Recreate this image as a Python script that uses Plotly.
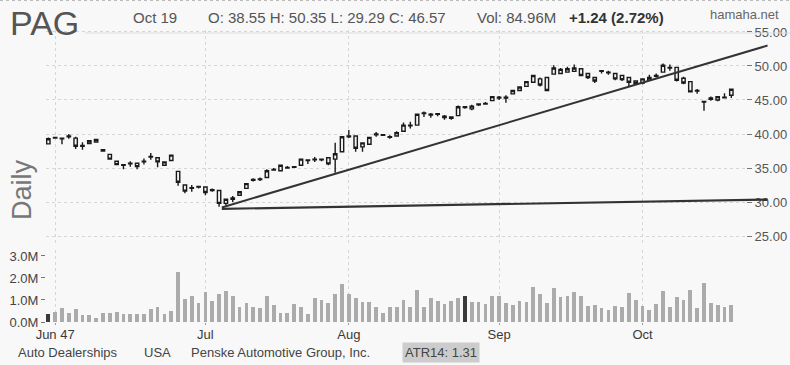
import plotly.graph_objects as go

# ---------------- data ----------------
opens = [38.55, 39.4, 39.4, 39.6, 39.4, 38.3, 38.6, 38.8, 37.7, 37.0,
         36.0, 35.5, 35.6, 35.7, 35.9, 36.6, 36.5, 35.4, 36.1, 34.5,
         32.5, 32.1, 32.2, 32.2, 31.7, 31.7, 29.8, 30.4, 31.0, 32.0,
         33.2, 33.3, 33.6, 34.7, 34.6, 35.0, 35.1, 35.4, 36.2, 36.2,
         36.3, 36.5, 36.3, 37.4, 39.7, 39.7, 38.1, 38.5, 39.9, 39.9,
         39.6, 39.7, 40.4, 41.2, 41.3, 43.0, 42.9, 42.9, 42.6, 42.5,
         42.7, 43.9, 43.7, 44.3, 44.4, 44.9, 45.4, 45.3, 45.9, 46.4,
         47.0, 47.6, 48.1, 48.3, 48.8, 48.9, 49.1, 49.2, 49.6, 48.9,
         48.3, 49.2, 49.1, 48.9, 48.6, 48.3, 47.8, 47.5, 47.9, 48.5,
         49.1, 49.8, 49.8, 48.2, 47.7, 46.4, 44.8, 45.1, 45.0, 45.4,
         45.7]
highs = [39.5, 39.6, 39.5, 40.0, 39.6, 38.8, 39.1, 39.3, 37.8, 37.1,
         36.1, 35.6, 36.0, 35.8, 36.4, 37.2, 36.6, 36.0, 37.0, 34.5,
         32.6, 32.5, 32.4, 32.3, 32.0, 31.8, 30.5, 30.9, 31.6, 32.8,
         33.5, 33.6, 34.8, 35.0, 35.5, 35.3, 35.3, 36.4, 36.3, 36.6,
         36.4, 36.6, 38.7, 39.7, 40.6, 39.8, 38.8, 39.6, 40.3, 40.0,
         39.8, 40.4, 41.7, 41.8, 43.0, 43.3, 43.1, 43.1, 42.8, 42.6,
         44.2, 44.1, 44.3, 44.5, 44.7, 45.6, 45.6, 45.7, 46.5, 47.0,
         47.8, 48.7, 48.3, 48.4, 50.1, 49.7, 49.9, 50.2, 49.7, 49.0,
         48.4, 49.3, 49.3, 49.0, 48.7, 48.4, 47.9, 48.2, 48.7, 48.9,
         50.35, 50.2, 49.9, 48.4, 47.8, 46.6, 44.9, 45.5, 45.6, 46.0,
         46.7]
lows = [38.5, 39.3, 38.5, 39.3, 37.8, 37.7, 38.5, 38.7, 37.4, 36.2,
        35.4, 34.8, 35.2, 34.8, 35.5, 36.2, 35.1, 35.3, 36.0, 32.4,
        31.3, 31.5, 32.0, 31.0, 31.5, 29.29, 29.5, 30.0, 30.9, 31.9,
        33.0, 33.1, 33.5, 34.6, 34.5, 34.9, 35.0, 35.3, 35.6, 35.9,
        36.0, 35.4, 34.3, 37.3, 39.4, 37.4, 37.4, 38.4, 39.6, 39.7,
        39.3, 39.6, 40.3, 40.8, 41.2, 42.5, 42.4, 42.6, 42.1, 42.1,
        42.6, 43.7, 43.5, 44.1, 44.3, 44.8, 45.0, 44.6, 45.8, 46.3,
        46.9, 47.5, 47.0, 46.3, 48.7, 48.8, 49.0, 49.1, 48.5, 48.1,
        47.5, 48.9, 48.7, 47.9, 47.8, 47.0, 47.2, 47.3, 47.8, 48.3,
        49.0, 49.3, 47.7, 47.3, 46.1, 45.9, 43.4, 44.9, 44.8, 45.3,
        45.3]
closes = [39.3, 39.5, 39.3, 39.7, 38.2, 38.2, 39.0, 39.2, 37.5, 36.3,
          35.5, 35.4, 35.7, 35.2, 36.0, 36.7, 35.9, 35.9, 36.9, 32.9,
          31.6, 32.0, 32.3, 31.4, 31.8, 29.8, 30.4, 30.6, 31.5, 32.7,
          33.3, 33.4, 34.6, 34.8, 35.4, 35.1, 35.2, 36.3, 36.1, 36.3,
          36.2, 35.6, 37.1, 39.6, 39.6, 37.9, 38.7, 39.5, 40.0, 39.8,
          39.5, 40.2, 41.3, 41.3, 42.9, 43.1, 42.8, 43.0, 42.4, 42.3,
          44.0, 44.0, 44.1, 44.4, 44.5, 45.5, 45.3, 45.4, 46.4, 46.9,
          47.7, 48.6, 47.2, 46.4, 49.7, 49.5, 49.6, 49.7, 48.6, 48.3,
          47.8, 49.3, 49.0, 48.1, 48.0, 47.6, 47.4, 48.1, 48.3, 48.6,
          50.1, 49.7, 47.9, 47.5, 46.2, 46.3, 44.7, 45.3, 45.5, 45.33,
          46.57]
volumes_m = [0.38, 0.46, 0.62, 0.43, 0.57, 0.34, 0.34, 0.16, 0.43, 0.43,
             0.47, 0.37, 0.35, 0.38, 0.35, 0.57, 0.68, 0.37, 0.49, 2.25,
             1.06, 1.16, 0.88, 1.37, 0.97, 1.29, 1.41, 1.20, 0.70, 0.87,
             0.68, 0.62, 1.16, 0.76, 0.43, 0.43, 0.81, 0.68, 0.37, 1.07,
             1.01, 0.87, 1.25, 1.73, 1.29, 1.10, 0.90, 0.90, 0.66, 0.43,
             0.66, 0.70, 1.01, 0.68, 1.47, 0.70, 1.10, 0.97, 0.81, 0.96,
             1.10, 1.16, 0.90, 0.90, 0.82, 1.16, 1.16, 0.87, 0.78, 0.97,
             0.90, 1.60, 1.26, 0.87, 1.56, 1.12, 1.16, 1.37, 1.20, 0.72,
             0.78, 0.63, 0.53, 0.72, 0.68, 1.31, 1.01, 0.72, 0.53, 0.81,
             1.41, 0.68, 1.12, 1.01, 1.47, 0.63, 1.78, 0.87, 0.76, 0.68,
             0.76]
highlight_bars = [0, 61]

month_tick_index = [1, 23, 44, 66, 87]
month_tick_text = ["Jun 47", "Jul", "Aug", "Sep", "Oct"]

price_ticks = [25, 30, 35, 40, 45, 50, 55]
vol_ticks = [0, 1e6, 2e6, 3e6]
vol_tick_text = ["0.0M", "1.0M", "2.0M", "3.0M"]

upper_trend_x = [25.4, 105.3]
upper_trend_y = [29.2, 53.0]
lower_trend_x = [25.4, 105.3]
lower_trend_y = [29.0, 30.35]

# ---------------- figure ----------------
W, H = 790, 365
idx = list(range(len(opens)))
volumes = [v * 1e6 for v in volumes_m]
bar_colors = ["#3a3a3a" if i in highlight_bars else "#ababab" for i in idx]

FONT = "Liberation Sans, Arial, sans-serif"
BG = "#f8f8f8"
GRID = "#d6d6d6"

fig = go.Figure()

fig.add_trace(go.Bar(
    x=idx, y=volumes, marker=dict(color=bar_colors, line=dict(width=0)),
    width=0.55, xaxis="x", yaxis="y", hoverinfo="skip", showlegend=False))

fig.add_trace(go.Candlestick(
    x=idx, open=opens, high=highs, low=lows, close=closes,
    increasing=dict(line=dict(color="#1a1a1a", width=1.4), fillcolor="#f4f4f4"),
    decreasing=dict(line=dict(color="#1a1a1a", width=1.4), fillcolor="#f4f4f4"),
    whiskerwidth=0, xaxis="x2", yaxis="y2", hoverinfo="skip", showlegend=False))

# trend lines on an overlay axis that reaches into the label column
fig.add_trace(go.Scatter(
    x=upper_trend_x, y=upper_trend_y, mode="lines",
    line=dict(color="#333333", width=2), xaxis="x3", yaxis="y3",
    hoverinfo="skip", showlegend=False))
fig.add_trace(go.Scatter(
    x=lower_trend_x, y=lower_trend_y, mode="lines",
    line=dict(color="#333333", width=2.2), xaxis="x3", yaxis="y3",
    hoverinfo="skip", showlegend=False))

PX_PER_BAR = 6.83
X_LEFT, X_RIGHT, X_EXT = 46, 746, 768
x_dom = [X_LEFT / W, X_RIGHT / W]
x_range = [-0.34, -0.34 + (X_RIGHT - X_LEFT) / PX_PER_BAR]
x3_range = [-0.34, -0.34 + (X_EXT - X_LEFT) / PX_PER_BAR]

def py(px):
    return 1 - px / H

price_dom = [py(245), py(30)]
price_range = [23.68, 55.29]

fig.update_layout(
    width=W, height=H,
    margin=dict(l=0, r=0, t=0, b=0, autoexpand=False),
    paper_bgcolor=BG, plot_bgcolor="rgba(0,0,0,0)",
    font=dict(family=FONT, color="#555555"),
    bargap=0,
    xaxis=dict(domain=x_dom, range=x_range, anchor="y", automargin=False,
               tickmode="array", tickvals=month_tick_index, ticktext=month_tick_text,
               ticks="outside", ticklen=2, tickcolor="#999999",
               ticklabelstandoff=-2,
               tickfont=dict(size=13, color="#3a3a3a", family=FONT),
               showgrid=True, gridcolor=GRID, griddash="dot", gridwidth=1,
               zeroline=False, showline=False, rangeslider=dict(visible=False)),
    xaxis2=dict(domain=x_dom, range=x_range, anchor="y2", automargin=False,
                tickmode="array", tickvals=month_tick_index,
                showticklabels=False, ticks="",
                showgrid=True, gridcolor=GRID, griddash="dot", gridwidth=1,
                zeroline=False, showline=False, rangeslider=dict(visible=False)),
    xaxis3=dict(domain=[X_LEFT / W, X_EXT / W], range=x3_range, anchor="y3",
                visible=False, showgrid=False, automargin=False,
                rangeslider=dict(visible=False)),
    yaxis=dict(domain=[py(322), py(250)], range=[0, 3.27e6], side="left",
               automargin=False,
               tickmode="array", tickvals=vol_ticks, ticktext=vol_tick_text,
               ticks="outside", ticklen=4, tickcolor="#777777",
               tickfont=dict(size=13, color="#444444", family=FONT),
               showgrid=False, zeroline=False, showline=False),
    yaxis2=dict(domain=price_dom, range=price_range, side="right",
                anchor="x2", automargin=False,
                tickmode="array", tickvals=price_ticks, tickformat=".2f",
                ticks="outside", ticklen=5, tickcolor="#777777",
                tickfont=dict(size=13, color="#555555", family=FONT),
                showgrid=True, gridcolor=GRID, griddash="dot", gridwidth=1,
                zeroline=False, showline=False),
    yaxis3=dict(domain=price_dom, range=price_range, anchor="x3",
                visible=False, showgrid=False, automargin=False),
)

def ann(text, x, y, size, color="#555555", xanchor="left", bold=False, **kw):
    fig.add_annotation(
        text=("<b>%s</b>" % text) if bold else text,
        x=x / W, y=py(y), xref="paper", yref="paper",
        xanchor=xanchor, yanchor="middle", showarrow=False,
        font=dict(size=size, color=color, family=FONT), **kw)

ann("PAG", 8, 23, 34, "#555555")
ann("Oct 19", 131, 17, 15, "#555555")
ann("O: 38.55 H: 50.35 L: 29.29 C: 46.57", 206, 17, 15, "#555555")
ann("Vol: 84.96M", 475, 17, 15, "#555555")
ann("+1.24 (2.72%)", 567, 17, 15, "#333333", bold=True)
ann("hamaha.net", 708, 15, 13, "#666666")
ann("Daily", 22, 190, 27, "#777777", xanchor="center", textangle=-90)

ann("Auto Dealerships", 16, 352, 13, "#444444")
ann("USA", 142, 352, 13, "#444444")
ann("Penske Automotive Group, Inc.", 189, 352, 13, "#444444")
ann("ATR14: 1.31", 402, 352, 13, "#444444", bgcolor="#cccccc", borderpad=2)

# top separator line
fig.add_shape(type="line", xref="paper", yref="paper",
              x0=85 / W, x1=1, y0=py(33), y1=py(33),
              line=dict(color="#dddddd", width=1))
# dotted border at very top
fig.add_shape(type="line", xref="paper", yref="paper",
              x0=0, x1=1, y0=py(0.5), y1=py(0.5),
              line=dict(color="#bbbbbb", width=1, dash="dot"))

fig.write_html("out.html")
